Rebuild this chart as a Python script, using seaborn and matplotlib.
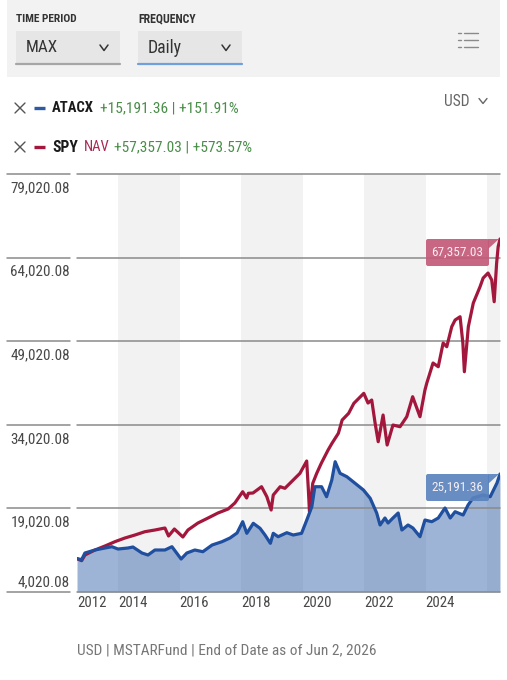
import matplotlib
matplotlib.use("Agg")
import matplotlib.pyplot as plt
import matplotlib.dates as mdates
import numpy as np
import pandas as pd
import seaborn as sns
from matplotlib import font_manager as fm
from matplotlib.font_manager import FontProperties
from matplotlib.patches import Rectangle, FancyBboxPatch, Polygon
from matplotlib.lines import Line2D
from matplotlib.transforms import IdentityTransform

# ---------------- data ----------------
spy_dates = ["2012-09-01", "2012-10-26", "2012-12-04", "2013-04-02", "2013-07-30", "2013-11-25",
             "2014-03-24", "2014-07-21", "2014-11-16", "2015-03-15", "2015-07-12", "2015-08-24",
             "2015-11-01", "2016-02-10", "2016-04-10", "2016-08-07", "2016-12-05", "2017-04-01",
             "2017-07-31", "2017-10-19", "2018-01-20", "2018-03-08", "2018-03-28", "2018-05-22",
             "2018-09-01", "2018-11-03", "2018-12-24", "2019-01-18", "2019-04-10", "2019-06-05",
             "2019-09-12", "2019-12-01", "2020-02-19", "2020-03-10", "2020-03-23", "2020-05-01",
             "2020-06-17", "2020-08-10", "2020-10-30", "2020-12-15", "2021-03-01", "2021-04-15",
             "2021-07-01", "2021-09-01", "2021-12-28", "2022-02-16", "2022-04-01", "2022-05-11",
             "2022-06-17", "2022-08-14", "2022-10-01", "2022-12-09", "2023-03-03", "2023-05-22",
             "2023-07-31", "2023-10-26", "2023-12-24", "2024-01-15", "2024-03-29", "2024-05-30",
             "2024-07-27", "2024-09-08", "2024-11-06", "2024-12-16", "2025-02-13", "2025-03-18",
             "2025-04-05", "2025-05-22", "2025-07-20", "2025-10-08", "2025-11-14", "2026-01-11",
             "2026-02-24", "2026-03-25", "2026-04-23", "2026-05-11", "2026-06-02"]
spy_values = [10000, 9635, 10658, 11555, 12272, 13044,
              13708, 14246, 14838, 15143, 15502, 14066,
              15322, 13887, 15143, 16399, 17296, 18193,
              18910, 19987, 22014, 20884, 21727, 21781,
              22911, 21117, 18731, 21422, 22911, 22624,
              24113, 25315, 27521, 22319, 18426, 23521,
              25315, 27108, 29495, 30696, 32491, 34877,
              36079, 37873, 39667, 37927, 38465, 34339,
              30984, 35774, 30392, 33980, 33675, 35469,
              39057, 35469, 40259, 41515, 45103, 44439,
              48691, 48027, 51615, 52817, 53409, 48691,
              43542, 51615, 55867, 58791, 60352, 61249,
              59993, 56100, 63043, 65967, 67357.03]

atacx_dates = ["2012-09-01", "2012-10-26", "2012-12-04", "2013-04-02", "2013-07-30", "2013-10-21",
               "2014-01-01", "2014-04-29", "2014-06-27", "2014-10-12", "2014-12-23", "2015-03-15",
               "2015-07-12", "2015-10-03", "2016-01-20", "2016-03-28", "2016-07-01", "2016-10-04",
               "2017-01-22", "2017-05-19", "2017-08-22", "2017-11-14", "2018-01-20", "2018-03-10",
               "2018-05-26", "2018-08-14", "2018-10-12", "2018-12-15", "2019-01-18", "2019-03-17",
               "2019-06-28", "2019-09-12", "2019-12-20", "2020-02-20", "2020-04-20", "2020-05-26",
               "2020-08-14", "2020-10-12", "2020-12-13", "2021-01-22", "2021-03-21", "2021-06-10",
               "2021-09-16", "2021-12-24", "2022-03-14", "2022-05-30", "2022-07-09", "2022-09-05",
               "2022-10-12", "2022-12-09", "2023-02-09", "2023-03-25", "2023-06-06", "2023-08-03",
               "2023-10-26", "2023-12-24", "2024-03-14", "2024-05-30", "2024-08-18", "2024-10-19",
               "2024-12-16", "2025-03-21", "2025-05-19", "2025-07-16", "2025-11-14", "2026-02-06",
               "2026-04-27", "2026-06-02"]
atacx_values = [10000, 9830, 11017, 11555, 11914, 12147,
                11734, 11914, 12093, 11017, 10658, 11555,
                11555, 12147, 9940, 11017, 11555, 11250,
                12452, 13044, 13708, 14605, 16632, 14551,
                16345, 15448, 14246, 12757, 14551, 13941,
                14659, 14246, 14551, 16937, 19323, 22911,
                22911, 21117, 24113, 27396, 25315, 24705,
                23521, 22319, 20830, 18193, 16040, 17296,
                16399, 17296, 18193, 15143, 16040, 15502,
                13941, 16937, 16632, 17296, 19090, 17296,
                18426, 17834, 19628, 20884, 21422, 21117,
                23575, 25191.36]

y_ticks = [4020.08, 19020.08, 34020.08, 49020.08, 64020.08, 79020.08]
y_tick_labels = ["4,020.08", "19,020.08", "34,020.08", "49,020.08", "64,020.08", "79,020.08"]
x_tick_years = [2012, 2014, 2016, 2018, 2020, 2022, 2024]
x_tick_labels = ["2012", "2014", "2016", "2018", "2020", "2022", "2024"]
shade_starts = ["2014-01-01", "2018-01-01", "2022-01-01", "2026-01-01"]
shade_ends = ["2016-01-01", "2020-01-01", "2024-01-01", "2026-06-02"]
x_start, x_end = "2012-09-01", "2026-06-02"

atacx_end_label = "25,191.36"
spy_end_label = "67,357.03"

# ---------------- style / fonts ----------------
sns.set_theme(style="white")

prefs = ["Liberation Sans Narrow", "Roboto Condensed", "Open Sans Condensed", "Noto Sans Condensed",
         "Noto Sans", "DejaVu Sans Condensed", "DejaVu Sans"]
chosen, stretch = None, "normal"
entries = fm.fontManager.ttflist
for p in prefs:
    for f in entries:
        st = str(f.stretch)
        cond = ("narrow" in f.name.lower() or "condensed" in f.name.lower()
                or st in ("condensed", "semi-condensed"))
        if f.name == p and cond and f.style == "normal":
            chosen = p
            stretch = f.stretch if st in ("condensed", "semi-condensed") else "normal"
            break
    if chosen:
        break
fam = ([chosen] if chosen else []) + ["Roboto", "DejaVu Sans"]
plt.rcParams["font.family"] = fam
plt.rcParams["font.stretch"] = stretch

W, H = 507, 680
fig = plt.figure(figsize=(W / 100, H / 100), dpi=100)
fig.patch.set_facecolor("white")
renderer = fig.canvas.get_renderer()
GROW = 1.07  # allow slightly wider text so heights come closer to the reference


def fit(s, target, bold=False, max_size=14):
    fp = FontProperties(family=fam, size=10, weight="bold" if bold else "normal", stretch=stretch)
    w, _, _ = renderer.get_text_width_height_descent(s, fp, ismath=False)
    return min(max_size, 10 * target * GROW / w)


def fx(x):
    return x / W


def fy(y):
    return 1 - y / H


def fline(xs, ys, **kw):
    fig.add_artist(Line2D([fx(x) for x in xs], [fy(y) for y in ys], transform=fig.transFigure, **kw))


def ftext(x, y, s, width, bold=False, color="#333333", ha="left", max_size=14, **kw):
    fs = fit(s, width, bold, max_size)
    return fig.text(fx(x), fy(y), s, fontsize=fs, fontweight="bold" if bold else "normal",
                    color=color, ha=ha, va="center", **kw)


# top control panel
fig.add_artist(Rectangle((fx(7), fy(77)), fx(500) - fx(7), fy(0) - fy(77), transform=fig.transFigure,
                         facecolor="#f2f2f2", edgecolor="none", zorder=0))
for (x0, x1, lab, wid, under) in [(16, 120, "MAX", 30, "#a6a6a6"), (138, 242, "Daily", 32, "#6f9fdc")]:
    fig.add_artist(Rectangle((fx(x0), fy(63)), fx(x1) - fx(x0), fy(31) - fy(63), transform=fig.transFigure,
                             facecolor="#e6e6e6", edgecolor="none", zorder=1))
    fline([x0, x1], [63.5, 63.5], color=under, lw=1.6, zorder=2)
    ftext(x0 + 10, 48, lab, wid, color="#333333")
    cx = x1 - 16
    fline([cx - 4, cx, cx + 4], [45, 50.5, 45], color="#333333", lw=1.1, zorder=2)
ftext(16, 19, "TIME PERIOD", 57, bold=True, color="#333333")
ftext(138, 19, "FREQUENCY", 54, bold=True, color="#333333")
for yy in [33, 40, 47]:
    fline([458, 461], [yy, yy], color="#8a8a8a", lw=1.0)
    fline([464, 478], [yy, yy], color="#8a8a8a", lw=1.0)

# legend rows
green = "#4a8e4a"
for yy, col in [(108, "#2d5aa3"), (147, "#a3173d")]:
    fline([15, 25], [yy - 5, yy + 5], color="#555555", lw=1.0)
    fline([15, 25], [yy + 5, yy - 5], color="#555555", lw=1.0)
    fline([34, 45], [yy, yy], color=col, lw=2.4, solid_capstyle="butt")
ftext(52, 108, "ATACX", 39, bold=True, color="#1a1a1a")
ftext(100, 108, "+15,191.36 | +151.91%", 129, color=green)
ftext(52, 147, "SPY", 24, bold=True, color="#1a1a1a")
ftext(84, 147, "NAV", 24, color="#a82a52")
ftext(114, 147, "+57,357.03 | +573.57%", 129, color=green)
ftext(444, 101, "USD", 24, color="#666666")
fline([479, 483, 487], [98.5, 103.5, 98.5], color="#666666", lw=1.0)

# footer
ftext(77, 650, "USD | MSTARFund | End of Date as of Jun 2, 2026", 280, color="#777777")

# ---------------- chart ----------------
ax = fig.add_axes([fx(77), fy(592), fx(500) - fx(77), fy(174) - fy(592)])
ax.set_facecolor("white")
for s in ax.spines.values():
    s.set_visible(False)

spy = pd.DataFrame({"date": pd.to_datetime(spy_dates), "value": spy_values})
atx = pd.DataFrame({"date": pd.to_datetime(atacx_dates), "value": atacx_values})

for a, b in zip(shade_starts, shade_ends):
    ax.axvspan(pd.Timestamp(a), pd.Timestamp(b), color="#f2f2f2", lw=0, zorder=0)

ax.fill_between(atx["date"], atx["value"], y_ticks[0], color="#3c6aae", alpha=0.5, lw=0, zorder=1)

ytrans = ax.get_yaxis_transform()
for v in y_ticks:
    ax.axhline(v, color="#8a8a8a", lw=1.1, zorder=2, clip_on=False)
    ax.plot([-70 / 423, -7 / 423], [v, v], transform=ytrans, color="#8a8a8a", lw=1.1, clip_on=False)

sns.lineplot(data=atx, x="date", y="value", ax=ax, color="#1f4f9e", lw=2.3, zorder=4, estimator=None)
sns.lineplot(data=spy, x="date", y="value", ax=ax, color="#a3173d", lw=2.3, zorder=3, estimator=None)

ax.set_xlim(pd.Timestamp(x_start), pd.Timestamp(x_end))
ax.set_ylim(y_ticks[0], y_ticks[-1])
ax.set_xticks([])
ax.set_yticks([])
ax.set_xlabel("")
ax.set_ylabel("")

tick_fs = fit("79,020.08", 55)
for v, lab in zip(y_ticks, y_tick_labels):
    off = 10 if v == y_ticks[0] else -14
    ax.annotate(lab, xy=(0, v), xycoords=("axes fraction", "data"), xytext=(-7, off),
                textcoords="offset pixels", ha="right", va="center", fontsize=tick_fs, color="#484848",
                annotation_clip=False)

xfs = fit("2012", 27)
xmin = pd.Timestamp(x_start)
for yr, lab in zip(x_tick_years, x_tick_labels):
    d = max(pd.Timestamp(f"{yr}-01-01"), xmin)
    ax.annotate(lab, xy=(mdates.date2num(d), 0), xycoords=("data", "axes fraction"), xytext=(0, -11),
                textcoords="offset pixels", ha="left", va="center", fontsize=xfs, color="#484848",
                annotation_clip=False)

# end-value callouts
fig.canvas.draw()
box_fs = fit("67,357.03", 52 / GROW)
for df, lab, col in [(spy, spy_end_label, "#c45a7a"), (atx, atacx_end_label, "#5a83bd")]:
    px, py = ax.transData.transform((mdates.date2num(df["date"].iloc[-1]), df["value"].iloc[-1]))
    bw, bh = 63, 27
    x1 = px - 11
    box = FancyBboxPatch((x1 - bw, py - bh), bw, bh, boxstyle="round,pad=0,rounding_size=2",
                         transform=IdentityTransform(), facecolor=col, edgecolor="none", alpha=0.92, zorder=6)
    fig.add_artist(box)
    tri = Polygon([[x1 - 1, py], [px - 1, py], [x1 - 1, py - 10]], closed=True,
                  transform=IdentityTransform(), facecolor=col, edgecolor="none", alpha=0.92, zorder=6)
    fig.add_artist(tri)
    fig.text(fx(x1 - bw / 2), (py - bh / 2) / H, lab, fontsize=box_fs, color="#f6eef2",
             ha="center", va="center", zorder=7)

fig.savefig("out.png", dpi=100)
